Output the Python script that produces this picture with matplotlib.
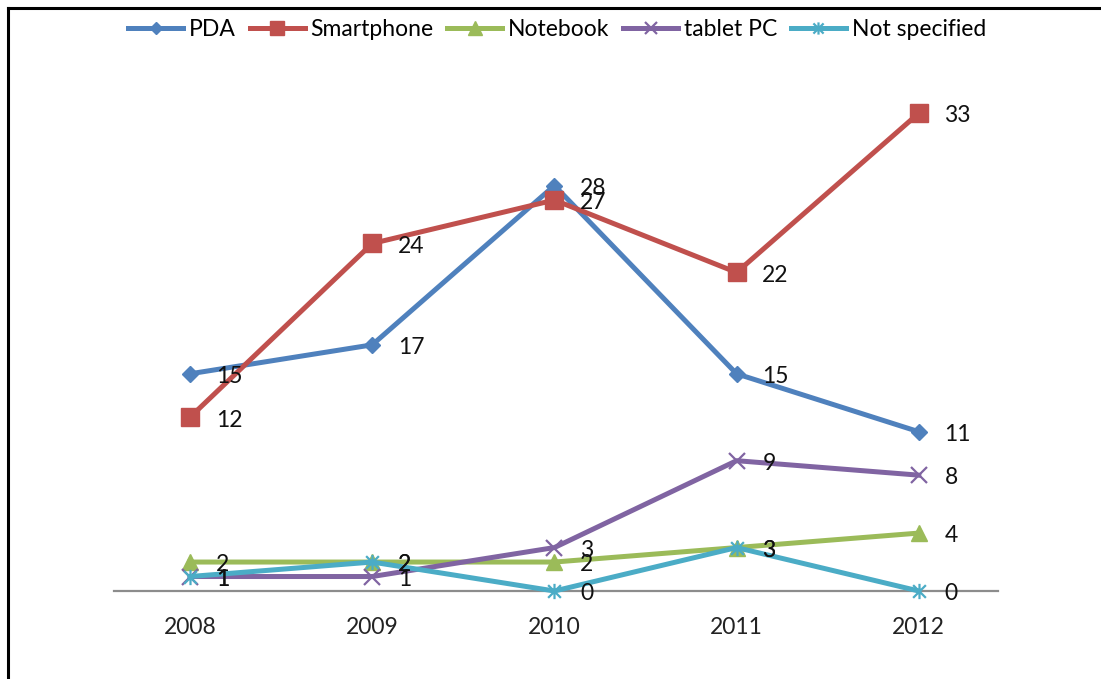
import matplotlib.pyplot as plt
from matplotlib.path import Path
from matplotlib.lines import Line2D

plt.rcParams['font.family'] = ['Lato', 'DejaVu Sans']

years = ['2008', '2009', '2010', '2011', '2012']
pda = [15, 17, 28, 15, 11]
smartphone = [12, 24, 27, 22, 33]
notebook = [2, 2, 2, 3, 4]
tablet_pc = [1, 1, 3, 9, 8]
not_specified = [1, 2, 0, 3, 0]

# Excel-style asterisk marker: an x with a vertical stroke through it
asterisk = Path(
    [(-0.5, -0.5), (0.5, 0.5), (-0.5, 0.5), (0.5, -0.5), (0, -0.6), (0, 0.6)],
    [Path.MOVETO, Path.LINETO, Path.MOVETO, Path.LINETO, Path.MOVETO, Path.LINETO],
)

series = [
    ('PDA', pda, '#4F81BD', 'D', 8, 1),
    ('Smartphone', smartphone, '#C0504D', 's', 13, 1),
    ('Notebook', notebook, '#9BBB59', '^', 12, 1),
    ('tablet PC', tablet_pc, '#8064A2', 'x', 11, 1.6),
    ('Not specified', not_specified, '#4BACC6', asterisk, 11, 1.6),
]

W, H = 1101, 679
fig = plt.figure(figsize=(W / 100, H / 100), dpi=100)

# figure frame: only left and top edges are drawn
fig.add_artist(Line2D([7.5 / W, 7.5 / W], [0, 1 - 7.5 / H], color='black', lw=2.2, transform=fig.transFigure))
fig.add_artist(Line2D([7.5 / W, 1], [1 - 7.5 / H, 1 - 7.5 / H], color='black', lw=2.2, transform=fig.transFigure))

ax_left, ax_right, ax_top, ax_bottom = 114, 998, 60, 591
ax = fig.add_axes([ax_left / W, 1 - ax_bottom / H, (ax_right - ax_left) / W, (ax_bottom - ax_top) / H])

x = list(range(len(years)))
handles = []
for name, vals, color, marker, ms, mew in series:
    line, = ax.plot(x, vals, color=color, lw=3.6, marker=marker, markersize=ms,
                    markerfacecolor=color, markeredgecolor=color, markeredgewidth=mew,
                    clip_on=False, label=name, solid_joinstyle='round')
    handles.append(line)

for name, vals, color, marker, ms, mew in series:
    for xi, v in zip(x, vals):
        ax.annotate(str(v), (xi, v), xytext=(18.5, -2), textcoords='offset points',
                    ha='left', va='center', fontsize=16.5, color='#111111', zorder=10)

px_per_cat = 182.2
ax.set_xlim(-(190 - ax_left) / px_per_cat, (ax_right - 190) / px_per_cat)
ax.set_ylim(0, (ax_bottom - ax_top) / 14.48)

for side in ['top', 'right', 'left']:
    ax.spines[side].set_visible(False)
ax.spines['bottom'].set_color('#8C8C8C')
ax.spines['bottom'].set_linewidth(1.6)
ax.spines['bottom'].set_zorder(0.5)

ax.set_xticks(x)
ax.set_xticklabels(years, fontsize=16.5, color='#222222')
ax.tick_params(axis='x', length=0, pad=19)
ax.set_yticks([])

fig.legend(handles=handles, loc='center', bbox_to_anchor=(557 / W, 1 - 30 / H), ncol=5,
           frameon=False, fontsize=16.5, handlelength=2.4, handletextpad=0.25,
           columnspacing=0.6, markerscale=0.8, borderpad=0)

fig.savefig('out.png', dpi=100, facecolor='white')
